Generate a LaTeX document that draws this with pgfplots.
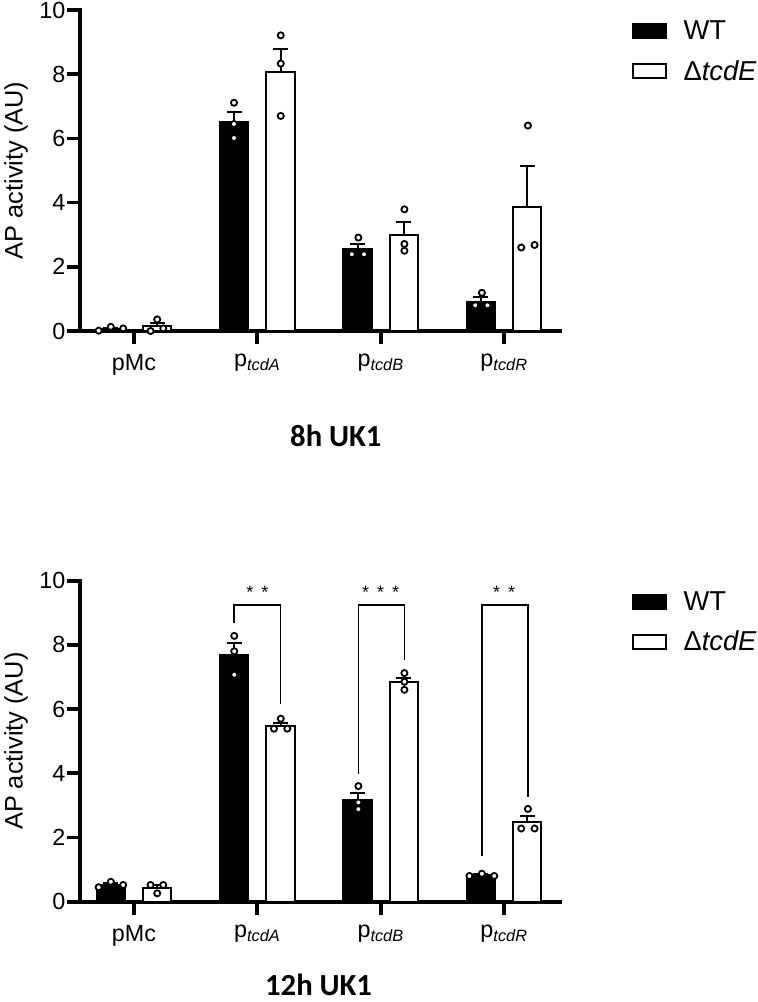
\documentclass[border=0pt]{standalone}
\usepackage{fontspec}
\setmainfont{Liberation Sans}
\newfontfamily\titlefont{Carlito}
\usepackage{pgfplots}
\pgfplotsset{compat=1.18}

\tikzset{sigstar/.style={font=\fontsize{13.5}{13.5}\selectfont, inner sep=0pt, anchor=base}}
\pgfplotsset{
  mybase/.style={
    scale only axis, width=360pt, height=240.75pt,
    xmin=-0.437, xmax=3.453, ymin=0, ymax=10,
    axis x line=bottom, axis y line=left,
    axis line style={-, line width=2.8pt, line cap=rect},
    every outer x axis line/.append style={-},
    every outer y axis line/.append style={-},
    xtick={0,1,2,3},
    xticklabels={pMc, p\textsubscript{\textit{tcdA}}, p\textsubscript{\textit{tcdB}}, p\textsubscript{\textit{tcdR}}},
    ytick={0,2,4,6,8,10},
    tick align=outside, major tick length=10pt,
    tick style={black, line width=2.8pt},
    tick label style={font=\fontsize{17.5}{19}\selectfont},
    xticklabel style={yshift=-4pt},
    yticklabel style={xshift=2.5pt},
    /pgf/number format/assume math mode=true,
    ylabel={AP activity (AU)},
    ylabel style={font=\fontsize{19}{21}\selectfont, at={(axis description cs:-0.133,0.5)}, anchor=center},
    clip=false,
    legend image code/.code={\draw[line width=1.5pt,#1] (0pt,-5.25pt) rectangle (25pt,5.25pt);},
    legend style={at={(axis description cs:1.149,0.966)}, anchor=north west,
      draw=none, fill=none, inner sep=0pt, outer sep=0pt, row sep=14pt,
      font=\fontsize{20.5}{22}\selectfont, nodes={inner sep=0pt},
      /tikz/every odd column/.append style={column sep=12.5pt}},
    legend cell align=left,
  },
  wtbar/.style={ybar, bar width=0.23, bar shift=0pt, fill=black, draw=black, line width=1.5pt, forget plot,
    error bars/.cd, y dir=plus, y explicit,
    error bar style={line width=1.5pt, black},
    error mark options={rotate=90, mark size=5.6pt, line width=1.5pt, black}},
  kobar/.style={ybar, bar width=0.23, bar shift=0pt, fill=white, draw=black, line width=1.5pt, forget plot,
    error bars/.cd, y dir=plus, y explicit,
    error bar style={line width=1.5pt, black},
    error mark options={rotate=90, mark size=5.6pt, line width=1.5pt, black}},
  pts/.style={only marks, mark=*, mark size=2.3pt, mark options={fill=white, draw=black, line width=1.35pt}, forget plot},
  brk/.style={black, line width=1.1pt, forget plot},
}

\begin{document}
\begin{tikzpicture}
\useasboundingbox (0,0) rectangle (567.75pt,751.5pt);

% ---------- 8h UK1 ----------
\begin{axis}[mybase, at={(60pt,503.25pt)}, anchor=south west,
  xlabel={\titlefont\bfseries 8h UK1},
  xlabel style={font=\fontsize{23}{25}\selectfont, at={(axis description cs:0.533,-0.327)}, anchor=center}]
% WT (bars centred at category - 0.188), mean +- SEM (upper)
\addplot[wtbar] coordinates {(-0.188,0.07) +- (0,0.03) (0.812,6.52) +- (0,0.31) (1.812,2.56) +- (0,0.14) (2.812,0.91) +- (0,0.14)};
% Delta tcdE (bars centred at category + 0.188)
\addplot[kobar] coordinates {(0.188,0.14) +- (0,0.11) (1.188,8.06) +- (0,0.73) (2.188,2.99) +- (0,0.40) (3.188,3.87) +- (0,1.28)};
\addplot[pts] coordinates {(-0.286,0.01) (-0.187,0.13) (-0.087,0.08)
  (0.811,7.11) (0.811,6.45) (0.811,6.01)
  (1.766,2.39) (1.819,2.91) (1.865,2.39)
  (2.766,0.80) (2.820,1.19) (2.865,0.80)};
\addplot[pts] coordinates {(0.135,0.00) (0.189,0.36) (0.238,0.08)
  (1.190,9.21) (1.190,8.33) (1.190,6.70)
  (2.192,3.79) (2.192,2.71) (2.192,2.50)
  (3.139,2.60) (3.193,6.40) (3.247,2.68)};
\addlegendimage{fill=black, draw=black}
\addlegendentry{WT}
\addlegendimage{fill=white, draw=black}
\addlegendentry{Δ\textit{tcdE}}
\end{axis}

% ---------- 12h UK1 ----------
\begin{axis}[mybase, at={(60pt,75.25pt)}, anchor=south west,
  xlabel={\titlefont\bfseries 12h UK1},
  xlabel style={font=\fontsize{23}{25}\selectfont, at={(axis description cs:0.497,-0.258)}, anchor=center}]
\addplot[wtbar] coordinates {(-0.188,0.53) +- (0,0.05) (0.812,7.69) +- (0,0.38) (1.812,3.18) +- (0,0.22) (2.812,0.82) +- (0,0.03)};
\addplot[kobar] coordinates {(0.188,0.43) +- (0,0.08) (1.188,5.46) +- (0,0.12) (2.188,6.84) +- (0,0.13) (3.188,2.48) +- (0,0.19)};
\addplot[pts] coordinates {(-0.286,0.45) (-0.187,0.62) (-0.087,0.52)
  (0.813,8.28) (0.813,7.80) (0.813,7.07)
  (1.819,3.60) (1.819,3.09) (1.819,2.88)
  (2.719,0.80) (2.820,0.87) (2.920,0.80)};
\addplot[pts] coordinates {(0.135,0.52) (0.189,0.26) (0.238,0.52)
  (1.135,5.39) (1.190,5.70) (1.243,5.39)
  (2.192,7.12) (2.192,6.85) (2.192,6.60)
  (3.139,2.28) (3.193,2.89) (3.247,2.28)};
% significance brackets
\addplot[brk] coordinates {(0.812,8.67) (0.812,9.245) (1.190,9.245) (1.190,6.16)};
\addplot[brk] coordinates {(1.819,3.99) (1.819,9.245) (2.192,9.245) (2.192,7.54)};
\addplot[brk] coordinates {(2.820,1.42) (2.820,9.245) (3.193,9.245) (3.193,3.26)};
\node[sigstar] at (axis cs:1.0,9.45) {*\hspace{6pt}*};
\node[sigstar] at (axis cs:2.0,9.45) {*\hspace{6pt}*\hspace{6pt}*};
\node[sigstar] at (axis cs:3.0,9.45) {*\hspace{6pt}*};
\addlegendimage{fill=black, draw=black}
\addlegendentry{WT}
\addlegendimage{fill=white, draw=black}
\addlegendentry{Δ\textit{tcdE}}
\end{axis}
\end{tikzpicture}
\end{document}
